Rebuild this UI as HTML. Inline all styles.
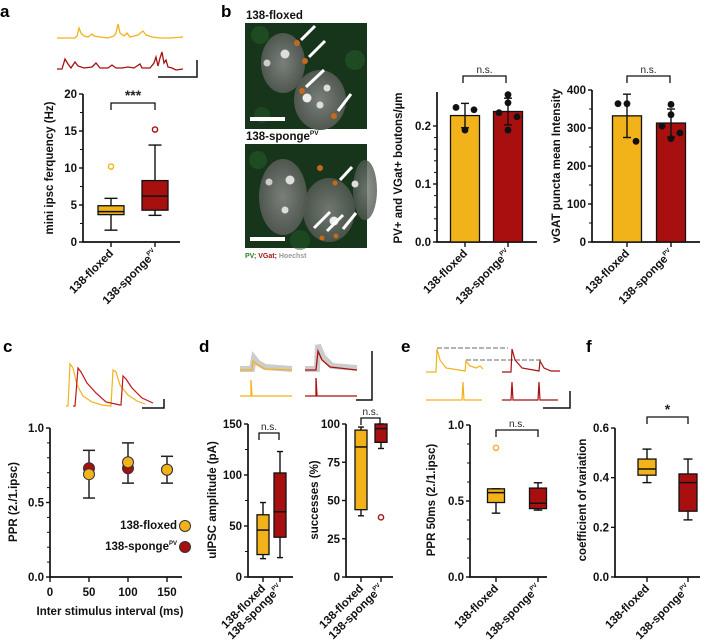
<!DOCTYPE html>
<html><head><meta charset="utf-8">
<style>
html,body{margin:0;padding:0;background:#fff;}
svg{display:block;font-family:"Liberation Sans",Arial,sans-serif;}
.t{font-weight:bold;font-size:11.5px;fill:#111;}
.pl{font-weight:bold;font-size:17px;fill:#000;}
</style></head>
<body>
<svg id="fig" width="712" height="642" viewBox="0 0 712 642" xmlns="http://www.w3.org/2000/svg">
<defs>
<radialGradient id="nuc" cx="50%" cy="50%" r="50%"><stop offset="0" stop-color="#7a7f7a"/><stop offset="1" stop-color="#4f574f"/></radialGradient>
</defs>
<text class="pl" x="0" y="17">a</text>
<text class="pl" x="221" y="17">b</text>
<text class="pl" x="3" y="352">c</text>
<text class="pl" x="199" y="352">d</text>
<text class="pl" x="401" y="352">e</text>
<text class="pl" x="586" y="352">f</text>

<g fill="none" stroke-width="1.3">
<path stroke="#f2b21a" d="M57,38 L75,38 L77,36 L79,28 L81,33 L84,36 L88,37 L92,34 L94,36 L100,37 L108,38 L114,36 L116,33 L118,24 L120,33 L124,36 L127,33 L130,37 L138,35 L143,31 L146,35 L152,37 L160,38 L170,38 L183,37"/>
<path stroke="#a80f0f" d="M57,69 L62,69 L65,59 L68,64 L71,68 L75,62 L78,66 L84,68 L92,67 L96,63 L100,68 L108,68 L112,65 L116,68 L122,68 L128,67 L134,68 L140,64 L142,68 L150,68 L154,63 L156,57 L158,66 L160,58 L162,52 L164,63 L166,60 L168,67 L172,68 L176,70 L183,69"/>
<path stroke="#111" stroke-width="1.5" d="M158,77 L197,77 L197,60"/>
</g>

<g>
<text x="246" y="19" class="t" font-size="10.5">138-floxed</text>
<rect x="245" y="23" width="122" height="106" fill="#17351b"/>
<circle cx="260" cy="35" r="9" fill="#245a28" opacity="0.6"/><circle cx="355" cy="60" r="10" fill="#245a28" opacity="0.6"/><circle cx="262" cy="115" r="8" fill="#245a28" opacity="0.5"/>
<ellipse cx="283" cy="63" rx="22" ry="30" fill="url(#nuc)"/>
<ellipse cx="320" cy="100" rx="26" ry="30" fill="url(#nuc)"/>
<circle cx="285" cy="54" r="4.5" fill="#ddd"/><circle cx="267" cy="63" r="3.5" fill="#ccc"/><circle cx="307" cy="98" r="4.5" fill="#eee"/><circle cx="327" cy="88" r="3.5" fill="#ddd"/><circle cx="320" cy="105" r="3.5" fill="#ddd"/>
<circle cx="297" cy="43" r="3" fill="#c46a1a"/><circle cx="305" cy="61" r="3" fill="#c46a1a"/><circle cx="302" cy="91" r="3" fill="#c46a1a"/><circle cx="334" cy="116" r="3" fill="#c46a1a"/>
<g stroke="#fff" stroke-width="3"><path d="M315,26 L301,40"/><path d="M325,41 L309,57"/><path d="M324,70 L306,87"/><path d="M351,94 L338,111"/></g>
<rect x="250" y="117" width="35" height="4" fill="#fff"/>
</g>
<g>
<text x="246" y="140" class="t" font-size="10.5">138-sponge<tspan font-size="6.5" dy="-5">PV</tspan></text>
<rect x="245" y="144" width="122" height="104" fill="#17351b"/>
<circle cx="258" cy="160" r="9" fill="#245a28" opacity="0.6"/><circle cx="300" cy="240" r="10" fill="#245a28" opacity="0.5"/>
<ellipse cx="283" cy="197" rx="24" ry="38" fill="url(#nuc)"/>
<ellipse cx="329" cy="210" rx="26" ry="32" fill="url(#nuc)" opacity="0.9"/>
<ellipse cx="365" cy="190" rx="12" ry="30" fill="url(#nuc)" opacity="0.8"/>
<circle cx="290" cy="180" r="4.5" fill="#ddd"/><circle cx="269" cy="182" r="3.5" fill="#ccc"/><circle cx="285" cy="210" r="3.5" fill="#ddd"/><circle cx="334" cy="221" r="4.5" fill="#eee"/><circle cx="355" cy="184" r="3.5" fill="#ddd"/>
<circle cx="320" cy="168" r="3" fill="#c46a1a"/><circle cx="335" cy="183" r="2.5" fill="#c46a1a"/><circle cx="322" cy="238" r="2.5" fill="#c46a1a"/><circle cx="336" cy="236" r="2.5" fill="#c46a1a"/>
<g stroke="#fff" stroke-width="3"><path d="M352,167 L340,180"/><path d="M330,212 L314,228"/><path d="M343,215 L327,231"/><path d="M356,213 L343,229"/></g>
<rect x="250" y="237" width="35" height="4" fill="#fff"/>
</g>
<text x="245" y="258" font-size="7" font-weight="bold"><tspan fill="#2e7d2e">PV; </tspan><tspan fill="#a80f0f">VGat; </tspan><tspan fill="#999">Hoechst</tspan></text>

<g fill="none" stroke-width="1.2">
<path stroke="#f2b21a" d="M66,406 L68,406 L70,364 L73,368 L77,385 L83,396 L92,402 L102,405 L110,406 L111,406 L113,370 L116,372 L120,385 L128,395 L137,401 L145,404"/>
<path stroke="#c0141c" d="M73,406 L75,406 L78,368 L81,372 L87,383 L96,393 L106,402 L120,405 L121,405 L123,376 L126,379 L132,388 L142,398 L153,403"/>
<path stroke="#111" stroke-width="1.5" d="M142,408 L164,408 L164,399"/>
</g>

<g fill="none">
<path stroke="#ccc" stroke-width="6" d="M240,369 L252,369 L254,358 L258,363 L265,367 L292,369"/>
<path stroke="#f2b21a" stroke-width="1.3" d="M240,370 L252,370 L253,361 L258,365 L265,369 L292,370"/>
<path stroke="#f2b21a" stroke-width="1.3" d="M240,396 L251,396 L251,380 L252,396 L292,396"/>
<path stroke="#ccc" stroke-width="6" d="M305,369 L317,369 L318,345 L323,357 L332,366 L357,368"/>
<path stroke="#a80f0f" stroke-width="1.3" d="M305,370 L316,370 L318,351 L322,360 L330,367 L357,370"/>
<path stroke="#a80f0f" stroke-width="1.3" d="M305,396 L316,396 L316,378 L317,396 L357,396"/>
<path stroke="#111" stroke-width="1.5" d="M356,400 L372,400 L372,351"/>
</g>

<g fill="none" stroke-width="1.2">
<path stroke="#888" stroke-dasharray="5,2" d="M437,348 L508,348 M466,360 L541,360"/>
<path stroke="#f2b21a" d="M426,372 L436,372 L437,349 L440,360 L446,368 L465,371 L466,361 L470,366 L476,368 L480,366 L483,369"/>
<path stroke="#f2b21a" d="M426,400 L462,400 L463,382 L464,400 L482,400"/>
<path stroke="#a80f0f" d="M502,372 L511,372 L512,349 L515,360 L522,368 L539,371 L540,361 L544,368 L551,371 L560,371"/>
<path stroke="#a80f0f" d="M502,400 L511,400 L512,382 L513,400 L538,400 L539,382 L540,400 L558,400"/>
<path stroke="#111" stroke-width="1.5" d="M543,408 L570,408 L570,391"/>
</g>

<g id="charts"></g>
</svg>
<script>
const groups = ["138-floxed", "138-sponge"];
const aBoxes = [[1.6,3.7,4.1,4.9,5.9],[3.6,4.3,6.2,8.3,13.1]];
const aOutliers = [[10.2],[15.2]];
const aTicks = [0,5,10,15,20];
const b1Means = [0.218, 0.225];
const b1Sd = [0.021, 0.023];
const b1Points = [[0.232,0.193,0.228],[0.254,0.240,0.223,0.216,0.193]];
const b1Ticks = [0,0.1,0.2];
const b2Means = [332, 313];
const b2Sd = [57, 37];
const b2Points = [[364,364,265],[362,335,305,287,272]];
const b2Ticks = [0,100,200,300,400];
const cIntervals = [50,100,150];
const cFloxed = [0.69,0.77,0.72];
const cSponge = [0.73,0.73,0.72];
const cErrLo = [0.53,0.63,0.63];
const cErrHi = [0.85,0.90,0.81];
const cXTicks = [0,50,100,150];
const cYTicks = [0,0.5,1.0];
const d1Boxes = [[18,22,46,61,73],[19,39,64,102,123]];
const d1Ticks = [0,50,100,150];
const d2Boxes = [[40,44,85,96,98],[84,88,97,100,100]];
const d2Outliers = [[],[39]];
const d2Ticks = [0,25,50,75,100];
const eBoxes = [[0.42,0.49,0.555,0.58,0.58],[0.44,0.45,0.485,0.585,0.62]];
const eOutliers = [[0.85],[]];
const eTicks = [0,0.5,1.0];
const fBoxes = [[0.38,0.41,0.435,0.475,0.515],[0.23,0.265,0.38,0.415,0.475]];
const fTicks = [0,0.2,0.4,0.6];

const COL = ["#f2b21a","#a80f0f"];
const NS = "http://www.w3.org/2000/svg";
const root = document.getElementById('charts');
function mk(tag, attrs, parent){
  const e = document.createElementNS(NS, tag);
  for (const k in attrs) e.setAttribute(k, attrs[k]);
  (parent||root).appendChild(e);
  return e;
}
function scale(d0,d1,r0,r1){ return v => r0 + (v-d0)/(d1-d0)*(r1-r0); }

function axes(g, x0, xEnd, yTopPx, y, ticks, fmt, minorN, name){
  const a = mk('path',{d:`M${x0},${yTopPx} L${x0},${y(ticks[0])} L${xEnd},${y(ticks[0])}`,stroke:'#111','stroke-width':1.7,fill:'none'},g);
  
  
  ticks.forEach((t,i)=>{
    mk('line',{x1:x0-4,x2:x0,y1:y(t),y2:y(t),stroke:'#111','stroke-width':1.4},g);
    const tx = mk('text',{x:x0-6,y:y(t)+4,'text-anchor':'end',class:'t'},g);
    tx.textContent = fmt(t);
    
    
    if (minorN && i<ticks.length-1){
      for(let k=1;k<minorN;k++){
        const v = t + (ticks[i+1]-t)*k/minorN;
        mk('line',{x1:x0-3,x2:x0,y1:y(v),y2:y(v),stroke:'#111','stroke-width':1},g);
      }
    }
  });
}
function yTitle(g, x, yc, text, name, size){
  const t = mk('text',{x:x,y:yc,'text-anchor':'middle',class:'t','font-size':size||11.5,transform:`rotate(-90 ${x} ${yc})`},g);
  t.textContent = text;
  
  
}
function xLabels(g, xs, yAxis, name){
  xs.forEach((x,i)=>{
    mk('line',{x1:x,x2:x,y1:yAxis,y2:yAxis+5,stroke:'#111','stroke-width':1.4},g);
    const t = mk('text',{x:x+3,y:yAxis+12,'text-anchor':'end',class:'t','font-size':11,transform:`rotate(-45 ${x+3} ${yAxis+12})`},g);
    t.textContent = groups[i];
    if(i===1){ const s = mk('tspan',{'font-size':6,dy:-5},t); s.textContent='PV'; }
    
    
  });
}
function bracket(g, x1, x2, y, label, name, small){
  mk('path',{d:`M${x1},${y+7} L${x1},${y} L${x2},${y} L${x2},${y+7}`,stroke:'#111','stroke-width':1.3,fill:'none'},g);
  const t = mk('text',{x:(x1+x2)/2,y:y-3,'text-anchor':'middle','font-size':small?10:14,'font-weight':small?'normal':'bold',fill:'#222'},g);
  t.textContent = label;
  
  
}
function boxes(g, xs, w, y, data, outl, name){
  data.forEach((b,i)=>{
    const x = xs[i];
    const bg = mk('g',{},g);
    
    
    mk('line',{x1:x,x2:x,y1:y(b[0]),y2:y(b[1]),stroke:'#111','stroke-width':1.4},bg);
    mk('line',{x1:x,x2:x,y1:y(b[3]),y2:y(b[4]),stroke:'#111','stroke-width':1.4},bg);
    mk('line',{x1:x-w/4,x2:x+w/4,y1:y(b[0]),y2:y(b[0]),stroke:'#111','stroke-width':1.4},bg);
    mk('line',{x1:x-w/4,x2:x+w/4,y1:y(b[4]),y2:y(b[4]),stroke:'#111','stroke-width':1.4},bg);
    mk('rect',{x:x-w/2,y:y(b[3]),width:w,height:y(b[1])-y(b[3]),fill:COL[i],stroke:'#111','stroke-width':1.3},bg);
    mk('line',{x1:x-w/2,x2:x+w/2,y1:y(b[2]),y2:y(b[2]),stroke:'#111','stroke-width':1.5},bg);
    (outl&&outl[i]||[]).forEach(v=>{
      const c = mk('circle',{cx:x,cy:y(v),r:2.6,fill:'none',stroke:COL[i],'stroke-width':1.4},g);
      
      
    });
  });
}
function bars(g, xs, w, y, means, sd, pts, name){
  means.forEach((m,i)=>{
    const x = xs[i];
    const r = mk('rect',{x:x-w/2,y:y(m),width:w,height:y(0)-y(m),fill:COL[i],stroke:'#111','stroke-width':1.3},g);
    
    
    mk('line',{x1:x,x2:x,y1:y(m-sd[i]),y2:y(m+sd[i]),stroke:'#111','stroke-width':1.4},g);
    mk('line',{x1:x-4,x2:x+4,y1:y(m-sd[i]),y2:y(m-sd[i]),stroke:'#111','stroke-width':1.4},g);
    mk('line',{x1:x-4,x2:x+4,y1:y(m+sd[i]),y2:y(m+sd[i]),stroke:'#111','stroke-width':1.4},g);
    const n = pts[i].length;
    pts[i].forEach((v,k)=>{
      const off = n===3 ? [-9,0,9][k] : [0,0,-9,9,0][k];
      const c = mk('circle',{cx:x+off,cy:y(v),r:3.4,fill:'#111'},g);
      
      
    });
  });
}
function panel(name){ const g = mk('g',{});   return g; }

{
  const g = panel('panel-a-boxplot');
  const y = scale(0,20,242,94);
  axes(g,83,180,94,y,aTicks,v=>v,2,'panel-a');
  boxes(g,[111,155],26,y,aBoxes,aOutliers,'panel-a');
  xLabels(g,[111,155],242,'panel-a');
  yTitle(g,53,168,'mini ipsc ferquency (Hz)','panel-a-y-title',11.5);
  bracket(g,111,155,103,'***','panel-a-significance');
}
{
  const g = panel('panel-b-boutons-bar');
  const y = scale(0,0.1,242,184);
  axes(g,437,537,92,y,b1Ticks,v=>v.toFixed(1),5,'panel-b1');
  bars(g,[465,508],29,y,b1Means,b1Sd,b1Points,'panel-b1');
  xLabels(g,[465,508],242,'panel-b1');
  yTitle(g,402,168,'PV+ and VGat+ boutons/µm','panel-b1-y-title',11);
  bracket(g,463,506,76,'n.s.','panel-b1-significance',true);
}
{
  const g = panel('panel-b-vgat-bar');
  const y = scale(0,400,242,90);
  axes(g,592,700,90,y,b2Ticks,v=>v,2,'panel-b2');
  bars(g,[627,671],29,y,b2Means,b2Sd,b2Points,'panel-b2');
  xLabels(g,[627,671],242,'panel-b2');
  yTitle(g,560,166,'vGAT puncta mean Intensity','panel-b2-y-title',11);
  bracket(g,627,670,76,'n.s.','panel-b2-significance',true);
}
{
  const g = panel('panel-c-ppr-chart');
  const y = scale(0,1,577,428);
  const x = scale(0,150,50,167);
  axes(g,50,182,428,y,cYTicks,v=>v.toFixed(1),5,'panel-c');
  cXTicks.forEach(t=>{
    mk('line',{x1:x(t),x2:x(t),y1:577,y2:582,stroke:'#111','stroke-width':1.4},g);
    const tx = mk('text',{x:x(t),y:596,'text-anchor':'middle',class:'t'},g);
    tx.textContent = t;
    
    
  });
  cIntervals.forEach((iv,i)=>{
    const cx = x(iv);
    mk('line',{x1:cx,x2:cx,y1:y(cErrLo[i]),y2:y(cErrHi[i]),stroke:'#222','stroke-width':1.5},g);
    mk('line',{x1:cx-6,x2:cx+6,y1:y(cErrLo[i]),y2:y(cErrLo[i]),stroke:'#222','stroke-width':1.5},g);
    mk('line',{x1:cx-6,x2:cx+6,y1:y(cErrHi[i]),y2:y(cErrHi[i]),stroke:'#222','stroke-width':1.5},g);
    const r = mk('circle',{cx:cx,cy:y(cSponge[i]),r:5.5,fill:'#a80f0f',stroke:'#333','stroke-width':1},g);
    
    
    const o = mk('circle',{cx:cx,cy:y(cFloxed[i]),r:5.5,fill:'#f2b21a',stroke:'#333','stroke-width':1},g);
    
    
  });
  const l1 = mk('text',{x:177,y:529,'text-anchor':'end',class:'t','font-size':9},g); l1.textContent='138-floxed';
   
  mk('circle',{cx:185,cy:526,r:5.5,fill:'#f2b21a',stroke:'#333'},g);
  const l2 = mk('text',{x:177,y:550,'text-anchor':'end',class:'t','font-size':9},g); l2.textContent='138-sponge';
  const s2 = mk('tspan',{'font-size':6,dy:-5},l2); s2.textContent='PV';
   
  mk('circle',{cx:185,cy:547,r:5.5,fill:'#a80f0f',stroke:'#333'},g);
  yTitle(g,17,502,'PPR (2./1.ipsc)','panel-c-y-title',11.5);
  const xt = mk('text',{x:110,y:615,'text-anchor':'middle',class:'t','font-size':11},g);
  xt.textContent='Inter stimulus interval (ms)';
   
}
{
  const g = panel('panel-d-amplitude-boxplot');
  const y = scale(0,150,577,424);
  axes(g,248,293,424,y,d1Ticks,v=>v,2,'panel-d1');
  boxes(g,[263,280],12,y,d1Boxes,null,'panel-d1');
  xLabels(g,[263,280],577,'panel-d1');
  yTitle(g,216,500,'uIPSC amplitude (pA)','panel-d1-y-title',11.5);
  bracket(g,259,279,433,'n.s.','panel-d1-significance',true);
}
{
  const g = panel('panel-d-successes-boxplot');
  const y = scale(0,100,577,424);
  axes(g,346,393,424,y,d2Ticks,v=>v,0,'panel-d2');
  boxes(g,[361,381],12,y,d2Boxes,d2Outliers,'panel-d2');
  xLabels(g,[361,381],577,'panel-d2');
  yTitle(g,318,500,'successes (%)','panel-d2-y-title',11.5);
  bracket(g,361,380,418,'n.s.','panel-d2-significance',true);
}
{
  const g = panel('panel-e-ppr-boxplot');
  const y = scale(0,1,577,425);
  axes(g,470,547,425,y,eTicks,v=>v.toFixed(1),4,'panel-e');
  boxes(g,[496,538],17,y,eBoxes,eOutliers,'panel-e');
  xLabels(g,[496,538],577,'panel-e');
  yTitle(g,435,500,'PPR 50ms (2./1.ipsc)','panel-e-y-title',11);
  bracket(g,496,538,430,'n.s.','panel-e-significance',true);
}
{
  const g = panel('panel-f-cv-boxplot');
  const y = scale(0,0.6,577,428);
  axes(g,615,700,428,y,fTicks,v=>v.toFixed(1),0,'panel-f');
  boxes(g,[647,688],18,y,fBoxes,null,'panel-f');
  xLabels(g,[647,688],577,'panel-f');
  yTitle(g,586,500,'coefficient of variation','panel-f-y-title',11);
  bracket(g,647,688,417,'*','panel-f-significance');
}
</script>
</body></html>
